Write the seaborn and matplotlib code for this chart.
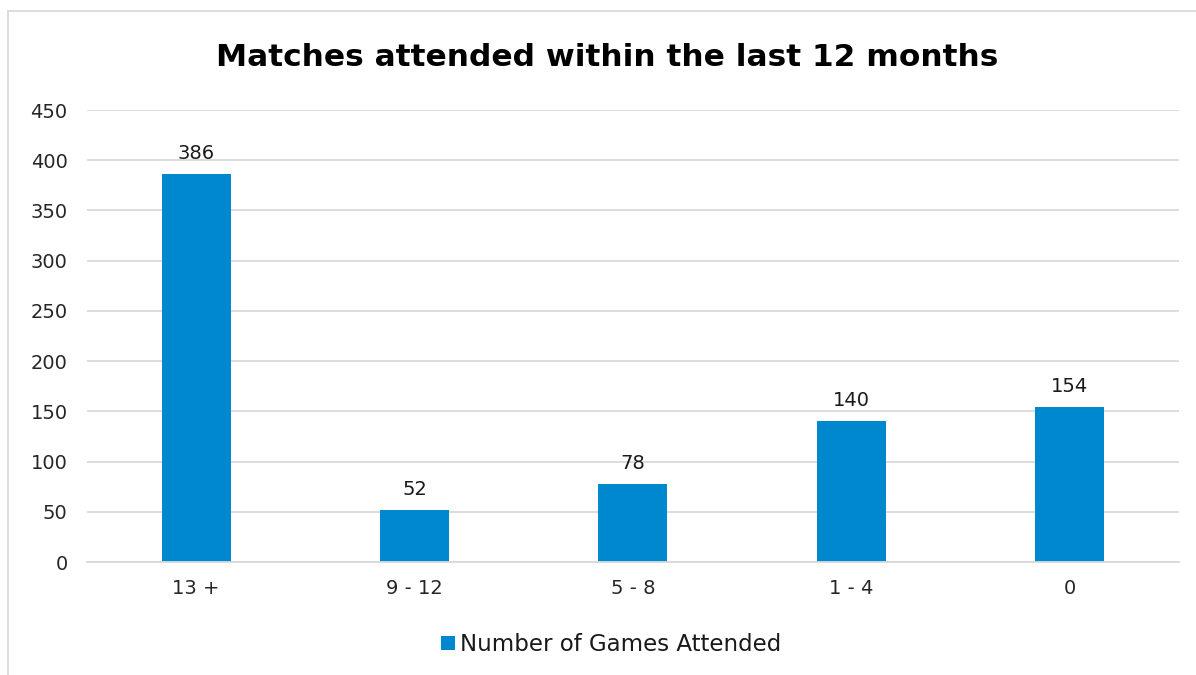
import matplotlib
matplotlib.use("Agg")
import matplotlib.pyplot as plt
import seaborn as sns
import pandas as pd
from matplotlib.patches import Patch, Rectangle

categories = ["13 +", "9 - 12", "5 - 8", "1 - 4", "0"]
values = [386, 52, 78, 140, 154]
series_name = "Number of Games Attended"
title = "Matches attended within the last 12 months"
yticks = [0, 50, 100, 150, 200, 250, 300, 350, 400, 450]

sns.set_theme(style="white")
plt.rcParams['font.family'] = ['DejaVu Sans']

df = pd.DataFrame({"cat": categories, "val": values})
color = "#0088CF"

fig = plt.figure(figsize=(11.96, 6.75), dpi=100)
ax = fig.add_axes([0.0727, 0.1674, 0.9131, 0.6696])
sns.barplot(data=df, x="cat", y="val", color=color, width=0.316, ax=ax, saturation=1, linewidth=0)

ax.set_ylim(0, 450)
ax.set_xlim(-0.5, 4.5)
ax.set_yticks(yticks)
ax.set_yticklabels([str(t) for t in yticks], fontsize=14, color="#262626")
ax.tick_params(axis="x", labelsize=14, colors="#262626", length=0, pad=12)
ax.tick_params(axis="y", length=0, pad=14)
ax.set_xlabel("")
ax.set_ylabel("")
ax.yaxis.grid(True, color="#d9d9d9", linewidth=1.3)
ax.set_axisbelow(True)
for s in ["top", "right", "left"]:
    ax.spines[s].set_visible(False)
ax.spines["bottom"].set_color("#d9d9d9")
ax.spines["bottom"].set_linewidth(1.3)

for c in ax.containers:
    ax.bar_label(c, labels=[str(v) for v in values], fontsize=14, color="#1a1a1a", padding=8)

fig.text(0.508, 0.915, title, ha="center", va="center", fontsize=22.5, fontweight="bold", color="black")

handles = [Patch(facecolor=color, edgecolor="none")]
fig.legend(handles, [series_name], loc="center", bbox_to_anchor=(0.511, 0.045), frameon=False,
           fontsize=16.5, handlelength=0.6, handleheight=0.6, handletextpad=0.25, labelcolor="#1a1a1a")

fig.patches.append(Rectangle((8/1196, -0.1), 1.2, 1.1 - 11/675, transform=fig.transFigure,
                             fill=False, edgecolor="#d9d9d9", linewidth=1.3))

fig.savefig("out.png", dpi=100)
